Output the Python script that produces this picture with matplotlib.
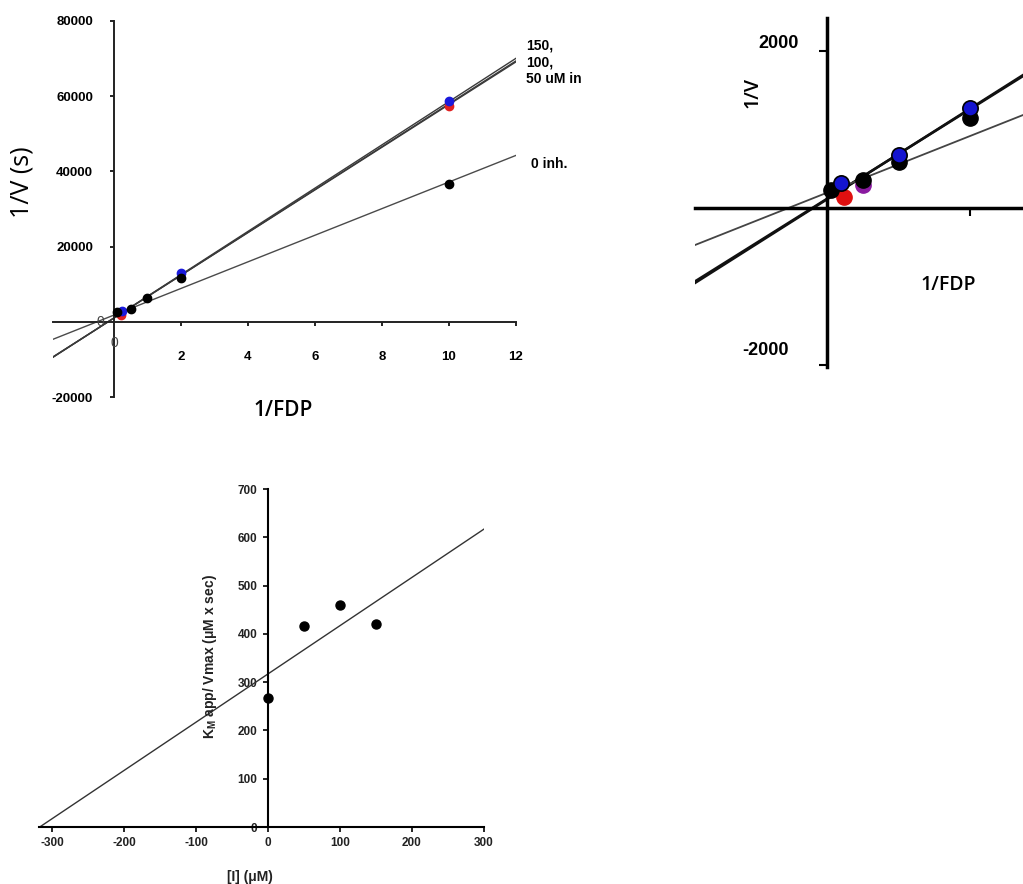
import numpy as np
import matplotlib.pyplot as plt

plt.rcParams['font.family'] = ['Liberation Sans', 'DejaVu Sans']
plt.rcParams['mathtext.default'] = 'regular'
plt.rcParams['axes.unicode_minus'] = False

# --- Lineweaver-Burk plot: 1/V vs 1/FDP ---
inv_fdp = [0.1, 0.5, 1, 2, 10]
v_black = [2500, 3300, 6250, 11600, 36600]
inv_fdp_blue = [0.25, 2, 10]
v_blue = [3000, 12900, 58600]
inv_fdp_red = [0.2, 10]
v_red = [1700, 57300]

# fitted lines (slope, intercept)
fit_inh = [(5754, 1032), (5700, 990), (5677, 1010)]   # 150, 100, 50 uM
fit_zero = (3539, 1791)                                # 0 inh.

# --- zoomed view near origin ---
z_black_x = [0.03, 0.25, 0.5, 1.0]
z_black_y = [230, 357, 586, 1147]
z_blue_x = [0.1, 0.5, 1.0]
z_blue_y = [320, 675, 1275]
z_red_x = [0.12]
z_red_y = [140]
z_purple_x = [0.25]
z_purple_y = [293]
z_fit_inh = [(1155, 111), (1140, 118)]
z_fit_zero = (722, 195)

# --- replot: Km app / Vmax vs [I] ---
inhib = [0, 50, 100, 150]
km_vmax = [267, 416, 460, 420]
replot_fit = (1.0, 317)

W, H = 1023, 884
fig = plt.figure(figsize=(W / 100, H / 100), dpi=100)


def axes_px(left, top, right, bottom):
    return fig.add_axes([left / W, 1 - bottom / H, (right - left) / W, (bottom - top) / H])


# ---------------- panel 1 ----------------
ax = axes_px(53, 21, 516, 397)
ax.set_xlim(-1.82, 12)
ax.set_ylim(-20000, 80000)
xl = np.array([-1.82, 12])
for s, b in fit_inh:
    ax.plot(xl, s * xl + b, color='#3a3a3a', lw=1.0, zorder=2)
s, b = fit_zero
ax.plot(xl, s * xl + b, color='#4a4a4a', lw=1.0, zorder=2)
ax.plot(inv_fdp_red, v_red, 'o', color='#e02020', ms=6, zorder=3)
ax.plot(inv_fdp_blue, v_blue, 'o', color='#1a1adc', ms=6, zorder=4)
ax.plot(inv_fdp, v_black, 'o', color='black', ms=6, zorder=5)

for side in ['top', 'right']:
    ax.spines[side].set_visible(False)
ax.spines['left'].set_position(('data', 0))
ax.spines['bottom'].set_position(('data', 0))
for side in ['left', 'bottom']:
    ax.spines[side].set_linewidth(1.4)
    ax.spines[side].set_color('#222222')
ax.set_xticks([2, 4, 6, 8, 10, 12])
ax.set_yticks([-20000, 20000, 40000, 60000, 80000])
ax.tick_params(axis='x', direction='out', length=3, width=1.2, pad=18, labelsize=9.5)
ax.tick_params(axis='y', direction='out', length=3, width=1.2, pad=12, labelsize=9.5)
for lab in ax.get_xticklabels() + ax.get_yticklabels():
    lab.set_fontweight('bold')
ax.text(-0.42, 0, '0', fontsize=10, color='#444444', ha='center', va='center')
ax.text(0, -5700, '0', fontsize=10, color='#444444', ha='center', va='center')
ax.text(12.3, 69000, '150,\n100,\n50 uM in', fontsize=10, fontweight='bold',
        ha='left', va='center', linespacing=1.25, clip_on=False)
ax.text(12.45, 42000, '0 inh.', fontsize=10, fontweight='bold',
        ha='left', va='center', clip_on=False)

fig.text(22 / W, 1 - 182 / H, '1/V (s)', rotation=90, fontsize=18,
         family='Open Sans', ha='center', va='center')
fig.text(283 / W, 1 - 410 / H, '1/FDP', fontsize=15, family='Open Sans',
         fontweight='semibold', ha='center', va='center')

# ---------------- panel 2 (close-up) ----------------
az = axes_px(695, 18, 1023, 367)
az.set_xlim(-0.923, 1.37)
az.set_ylim(-2025, 2420)
xz = np.array([-0.923, 1.37])
for s, b in z_fit_inh:
    az.plot(xz, s * xz + b, color='#111111', lw=1.8, zorder=2)
s, b = z_fit_zero
az.plot(xz, s * xz + b, color='#444444', lw=1.3, zorder=2)
az.plot(z_red_x, z_red_y, 'o', color='#e01010', ms=11, zorder=3)
az.plot(z_purple_x, z_purple_y, 'o', color='#8a1aa0', ms=11, zorder=3)
az.plot(z_black_x, z_black_y, 'o', color='black', ms=11, zorder=4)
az.plot(z_blue_x, z_blue_y, 'o', color='#1414d0', mec='black', mew=1.2, ms=11, zorder=5)

for side in ['top', 'right']:
    az.spines[side].set_visible(False)
az.spines['left'].set_position(('data', 0))
az.spines['bottom'].set_position(('data', 0))
for side in ['left', 'bottom']:
    az.spines[side].set_linewidth(2.5)
az.set_xticks([1])
az.set_yticks([-2000, 2000])
az.set_xticklabels([])
az.set_yticklabels([])
az.tick_params(direction='out', length=6, width=1.5)
az.text(-0.2, 2100, '2000', fontsize=13, fontweight='bold', ha='right', va='center')
az.text(-0.27, -1810, '-2000', fontsize=13, fontweight='bold', ha='right', va='center')
fig.text(752 / W, 1 - 93 / H, '1/V', rotation=90, fontsize=14, family='Open Sans',
         fontweight='semibold', ha='center', va='center')
fig.text(948 / W, 1 - 285 / H, '1/FDP', fontsize=14, family='Open Sans',
         fontweight='semibold', ha='center', va='center')

# ---------------- panel 3 (replot) ----------------
ar = axes_px(39, 489, 484, 827)
ar.set_xlim(-318, 300)
ar.set_ylim(0, 700)
xr = np.array([-317, 300])
s, b = replot_fit
ar.plot(xr, s * xr + b, color='#333333', lw=1.0, zorder=2)
ar.plot(inhib, km_vmax, 'o', color='black', ms=6.5, zorder=3)

for side in ['top', 'right']:
    ar.spines[side].set_visible(False)
ar.spines['left'].set_position(('data', 0))
for side in ['left', 'bottom']:
    ar.spines[side].set_linewidth(1.5)
ar.set_xticks(np.arange(-300, 301, 100))
ar.set_yticks(np.arange(0, 701, 100))
ar.tick_params(direction='out', length=3.5, width=1.2, labelsize=8.5,
               labelcolor='#222222', pad=4)
for lab in ar.get_xticklabels() + ar.get_yticklabels():
    lab.set_fontweight('bold')
fig.text(210 / W, 1 - 657 / H, r'K$_{M}$ app/ Vmax (μM x sec)', rotation=90,
         fontsize=10, fontweight='bold', color='#222222', ha='center', va='center')
fig.text(250 / W, 1 - 877 / H, '[I] (μM)', fontsize=10, fontweight='bold',
         color='#222222', ha='center', va='center')

fig.savefig('out.png', dpi=100)
